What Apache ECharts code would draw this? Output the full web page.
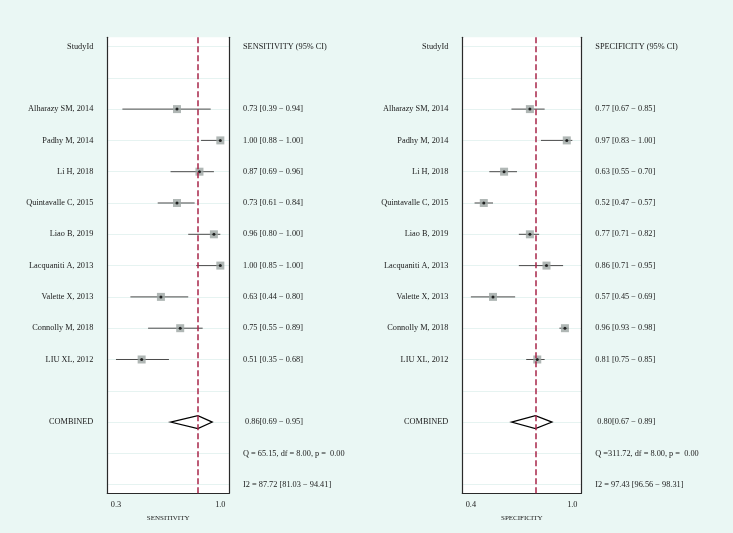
<!DOCTYPE html>
<html>
<head>
<meta charset="utf-8">
<script src="https://cdn.jsdelivr.net/npm/echarts@6/dist/echarts.min.js"></script>
<style>
html,body{margin:0;padding:0;background:#eaf7f4;}
#chart{width:733px;height:533px;}
</style>
</head>
<body>
<div id="chart"></div>
<script>
// ---- data ----
const studies = ["Alharazy SM, 2014","Padhy M, 2014","Li H, 2018","Quintavalle C, 2015","Liao B, 2019","Lacquaniti A, 2013","Valette X, 2013","Connolly M, 2018","LIU XL, 2012"];
const sensEst = [0.73,1.00,0.87,0.73,0.96,1.00,0.63,0.75,0.51];
const sensLo  = [0.39,0.88,0.69,0.61,0.80,0.85,0.44,0.55,0.35];
const sensHi  = [0.94,1.00,0.96,0.84,1.00,1.00,0.80,0.89,0.68];
const specEst = [0.77,0.97,0.63,0.52,0.77,0.86,0.57,0.96,0.81];
const specLo  = [0.67,0.83,0.55,0.47,0.71,0.71,0.45,0.93,0.75];
const specHi  = [0.85,1.00,0.70,0.57,0.82,0.95,0.69,0.98,0.85];
const sensPooled = [0.86,0.69,0.95]; // est, lo, hi
const specPooled = [0.80,0.67,0.89];
const sensHeader = "SENSITIVITY (95% CI)";
const specHeader = "SPECIFICITY (95% CI)";
const sensQ = "Q = 65.15, df = 8.00, p =  0.00";
const specQ = "Q =311.72, df = 8.00, p =  0.00";
const sensI2 = "I2 = 87.72 [81.03 \u2212 94.41]";
const specI2 = "I2 = 97.43 [96.56 \u2212 98.31]";
const sensTickValues = [0.35, 1.0];
const sensTickLabels = ["0.3", "1.0"];
const specTickValues = [0.45, 1.0];
const specTickLabels = ["0.4", "1.0"];

// ---- layout helpers ----
const FONT = '"Liberation Serif","Times New Roman",serif';
const TXT = '#1a1a1a';
const rows = Array.from({length: 15}, (_, i) => i);
const studyRow = i => i + 2;
const COMB_ROW = 12, Q_ROW = 13, I2_ROW = 14;
const f2 = v => v.toFixed(2);

function buildTexts(est, lo, hi, pooled, header, q, i2) {
  const left = {0: "StudyId"}, right = {0: header};
  studies.forEach((s, i) => {
    left[studyRow(i)] = s;
    right[studyRow(i)] = f2(est[i]) + " [" + f2(lo[i]) + " \u2212 " + f2(hi[i]) + "]";
  });
  left[COMB_ROW] = "COMBINED";
  right[COMB_ROW] = " " + f2(pooled[0]) + "[" + f2(pooled[1]) + " \u2212 " + f2(pooled[2]) + "]";
  right[Q_ROW] = q;
  right[I2_ROW] = i2;
  return {left, right};
}
const sensTexts = buildTexts(sensEst, sensLo, sensHi, sensPooled, sensHeader, sensQ, sensI2);
const specTexts = buildTexts(specEst, specLo, specHi, specPooled, specHeader, specQ, specI2);

const Y_MIN = -0.294, Y_MAX = 14.275;

function yAxisDef(gridIndex, position, texts, showSplit) {
  return {
    type: 'value', gridIndex, position, inverse: true, min: Y_MIN, max: Y_MAX,
    axisLine: {show: true, onZero: false, lineStyle: {color: '#2a2a2a', width: 1.2}},
    axisTick: {show: false, customValues: rows},
    splitLine: {show: showSplit, lineStyle: {color: '#e6f3f1', width: 1}},
    axisLabel: {
      customValues: rows, margin: 14, color: TXT, fontFamily: FONT, fontSize: 8.3,
      formatter: v => texts[Math.round(v)] || ''
    }
  };
}
function xAxisDef(gridIndex, min, max, tickVals, tickLabels, name) {
  return {
    type: 'value', gridIndex, min, max,
    axisLine: {show: true, onZero: false, lineStyle: {color: '#2a2a2a', width: 1.2}},
    axisTick: {show: false, customValues: tickVals},
    splitLine: {show: false},
    axisLabel: {
      customValues: tickVals, margin: 8, color: TXT, fontFamily: FONT, fontSize: 8.3,
      formatter: v => { const k = tickVals.findIndex(t => Math.abs(t - v) < 1e-6); return k >= 0 ? tickLabels[k] : ''; }
    },
    name, nameLocation: 'middle', nameGap: 15,
    nameTextStyle: {color: TXT, fontFamily: FONT, fontSize: 7}
  };
}

function panelSeries(idx, est, lo, hi, pooled) {
  const ciData = est.map((e, i) => [lo[i], hi[i], studyRow(i)]);
  const ptData = est.map((e, i) => [e, studyRow(i)]);
  return [
    {
      type: 'custom', xAxisIndex: idx, yAxisIndex: idx * 2, z: 2,
      data: ciData, encode: {x: [0, 1], y: 2}, silent: true,
      renderItem: (params, api) => {
        const a = api.coord([api.value(0), api.value(2)]);
        const b = api.coord([api.value(1), api.value(2)]);
        return {type: 'line', shape: {x1: a[0], y1: a[1], x2: b[0], y2: b[1]},
                style: {stroke: '#4a4a4a', lineWidth: 1}};
      },
      markLine: {
        silent: true, symbol: ['none', 'none'], label: {show: false},
        lineStyle: {color: '#a8264a', type: [6, 3], width: 1.5},
        data: [{xAxis: pooled[0]}]
      }
    },
    {
      type: 'scatter', xAxisIndex: idx, yAxisIndex: idx * 2, z: 3, silent: true,
      data: ptData, symbol: 'rect', symbolSize: 8,
      itemStyle: {color: '#9ca5a3'}
    },
    {
      type: 'scatter', xAxisIndex: idx, yAxisIndex: idx * 2, z: 4, silent: true,
      data: ptData, symbol: 'circle', symbolSize: 3,
      itemStyle: {color: '#000'}
    },
    {
      type: 'custom', xAxisIndex: idx, yAxisIndex: idx * 2, z: 3, silent: true,
      data: [[pooled[1], pooled[0], pooled[2], COMB_ROW]], encode: {x: [0, 2], y: 3},
      renderItem: (params, api) => {
        const r = api.value(3);
        const pl = api.coord([api.value(0), r]);
        const pc = api.coord([api.value(1), r]);
        const ph = api.coord([api.value(2), r]);
        const h = 6.5;
        return {type: 'polygon',
                shape: {points: [[pl[0], pl[1]], [pc[0], pc[1] - h], [ph[0], ph[1]], [pc[0], pc[1] + h]]},
                style: {fill: '#fff', stroke: '#000', lineWidth: 1.2}};
      }
    }
  ];
}

const chart = echarts.init(document.getElementById('chart'), null, {renderer: 'canvas'});
chart.setOption({
  backgroundColor: '#eaf7f4',
  animation: false,
  grid: [
    {left: 107.3, top: 37.3, width: 121.7, height: 456, show: true, backgroundColor: '#fff', borderWidth: 0},
    {left: 462.3, top: 37.3, width: 119, height: 456, show: true, backgroundColor: '#fff', borderWidth: 0}
  ],
  xAxis: [
    xAxisDef(0, 0.296, 1.054, sensTickValues, sensTickLabels, 'SENSITIVITY'),
    xAxisDef(1, 0.4035, 1.0487, specTickValues, specTickLabels, 'SPECIFICITY')
  ],
  yAxis: [
    yAxisDef(0, 'left', sensTexts.left, true),
    yAxisDef(0, 'right', sensTexts.right, false),
    yAxisDef(1, 'left', specTexts.left, true),
    yAxisDef(1, 'right', specTexts.right, false)
  ],
  series: [
    ...panelSeries(0, sensEst, sensLo, sensHi, sensPooled),
    ...panelSeries(1, specEst, specLo, specHi, specPooled)
  ]
});
</script>
</body>
</html>
